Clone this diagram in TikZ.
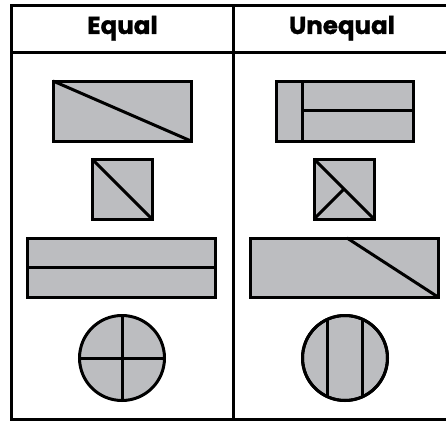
\documentclass[tikz,border=0pt]{standalone}
\usepackage{fontspec}
\setmainfont{Poppins}[BoldFont={Poppins Bold}, BoldFeatures={FakeBold=1.2}]
\begin{document}
\begin{tikzpicture}[x=1pt,y=-1pt,
  frame/.style={line width=3pt, draw=black},
  part/.style={line width=3pt, draw=black, fill=partgray, line join=miter},
  cut/.style={line width=3pt, draw=black},
  head/.style={font=\fontsize{24.5}{26}\selectfont\bfseries, anchor=base}]
\definecolor{partgray}{HTML}{BCBDC0}
\useasboundingbox (0,0) rectangle (446,420);
\begin{scope}
\clip (0,0) rectangle (446,420);
\draw[frame] (11,6) rectangle (452,419.5);
\draw[frame] (11,52) -- (452,52);
\draw[frame] (233,6) -- (233,419.5);
\end{scope}
\node[head] (eq) at (122.5,34) {Equal};
\node[head] (uneq) at (342,34) {Unequal};
% row 1
\draw[part] (53,81) rectangle (191,141);
\draw[cut] (53,81) -- (191,141);
\draw[part] (276,81) rectangle (413,141);
\draw[cut] (302,81) -- (302,141);
\draw[cut] (302,110) -- (413,110);
% row 2
\draw[part] (92,159) rectangle (152,219);
\draw[cut] (92,159) -- (152,219);
\draw[part] (314,159) rectangle (374,219);
\draw[cut] (314,159) -- (374,219);
\draw[cut] (314,219) -- (344,189);
% row 3
\draw[part] (27,238) rectangle (215,297);
\draw[cut] (27,267.5) -- (215,267.5);
\draw[part] (250,238) rectangle (438,297);
\draw[cut] (347,238) -- (438,297);
% row 4
\draw[part] (122,358) circle (42.5);
\draw[cut] (122,315.5) -- (122,400.5);
\draw[cut] (79.5,358) -- (164.5,358);
\draw[part] (345,358) circle (42.5);
\begin{scope}
\clip (345,358) circle (42.5);
\draw[cut] (327.5,310) -- (327.5,406);
\draw[cut] (362.5,310) -- (362.5,406);
\end{scope}
\draw[line width=3pt] (345,358) circle (42.5);
\end{tikzpicture}
\end{document}
